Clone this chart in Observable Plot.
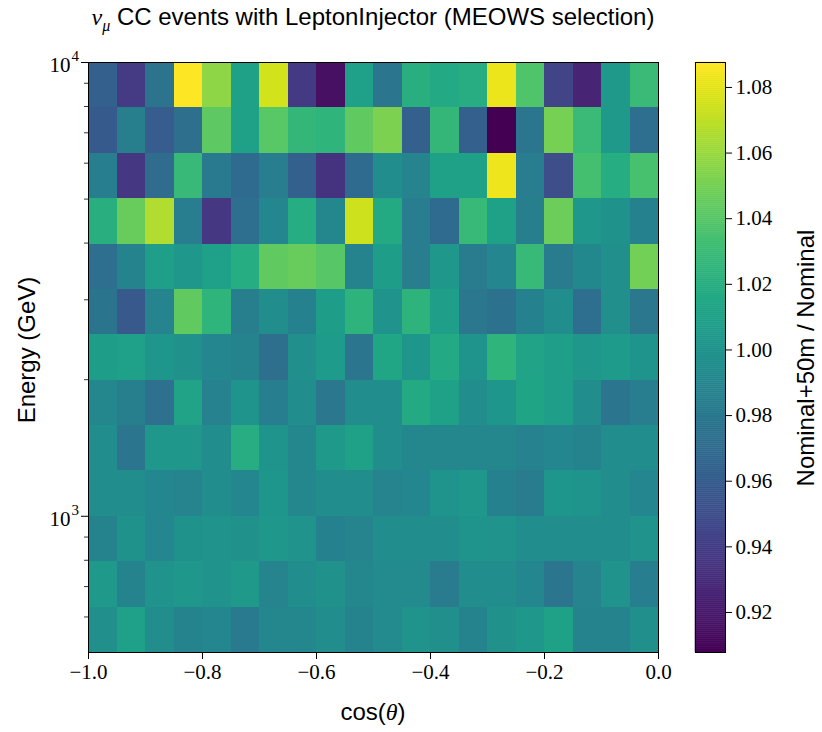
<!DOCTYPE html>
<html><head><meta charset="utf-8">
<script src="https://cdn.jsdelivr.net/npm/d3@7"></script>
<script src="https://cdn.jsdelivr.net/npm/@observablehq/plot@0.6"></script>
<style>
body{margin:0;background:#fff;}
#wrap{position:relative;width:822px;height:732px;overflow:hidden;background:#fff;}
.lbl{position:absolute;font-family:"Liberation Sans",Arial,sans-serif;font-size:24px;line-height:28px;color:#000;white-space:nowrap;}
.rot{transform:translate(-50%,-50%) rotate(-90deg);}
#main,#cbar{position:absolute;top:0;}
#main{left:0;}
#cbar{left:660px;}
</style></head><body>
<div id="wrap">
  <div id="main"></div>
  <div id="cbar"></div>
  <div class="lbl" style="left:88px;width:570px;top:3px;text-align:center"><span style="font-family:'Liberation Serif',serif;font-style:italic">ν<sub style="font-size:16px;">μ</sub></span> CC events with LeptonInjector (MEOWS selection)</div>
  <div class="lbl rot" style="left:27px;top:350px;">Energy (GeV)</div>
  <div class="lbl" style="left:273px;width:200px;top:698px;text-align:center">cos(<span style="font-family:'Liberation Serif',serif;font-style:italic">θ</span>)</div>
  <div class="lbl rot" style="left:806px;top:358px;">Nominal+50m / Nominal</div>
</div>
<script>
// cos(theta) bin edges (20 bins)
const cosThetaEdges = [-1.0,-0.95,-0.9,-0.85,-0.8,-0.75,-0.7,-0.65,-0.6,-0.55,-0.5,-0.45,-0.4,-0.35,-0.3,-0.25,-0.2,-0.15,-0.1,-0.05,0.0];
// energy bin edges in GeV (13 bins, 0.1 decade each)
const energyEdgesGeV = [501, 631, 794, 1000, 1259, 1585, 1995, 2512, 3162, 3981, 5012, 6310, 7943, 10000];

// ratio per energy bin (low -> high), across cos(theta) bins from -1 to 0
const ratio_501_631   = [0.997,1.009,0.996,0.988,0.990,0.981,0.991,0.991,0.996,0.988,0.993,1.000,0.997,0.988,0.998,1.004,1.010,0.988,0.988,0.997];
const ratio_631_794   = [1.005,0.988,1.000,1.004,1.000,1.005,0.989,0.996,0.998,0.991,0.993,0.993,0.982,0.995,0.995,0.990,0.978,0.989,1.000,0.984];
const ratio_794_1000  = [0.988,0.999,0.990,0.999,1.000,0.998,1.003,1.000,0.986,0.989,0.996,0.996,0.996,1.001,1.000,0.996,0.996,0.996,0.995,1.000];
const ratio_1000_1259 = [0.996,0.996,0.990,0.989,0.996,0.990,1.002,0.991,0.995,0.995,0.989,0.990,1.001,1.003,0.986,0.982,1.002,1.001,0.996,0.990];
const ratio_1259_1585 = [0.996,0.978,1.004,1.003,0.996,1.020,1.001,0.991,1.005,1.011,0.996,0.991,0.991,0.991,0.991,0.987,0.990,0.988,0.996,0.996];
const ratio_1585_1995 = [0.991,0.985,0.974,1.012,0.987,1.001,0.984,0.995,0.979,0.995,0.996,1.017,1.010,0.996,1.002,1.013,1.008,0.996,0.978,0.983];
const ratio_1995_2512 = [1.007,1.009,1.002,0.998,0.990,0.988,0.973,0.997,1.006,0.978,1.014,1.002,1.016,1.001,1.025,1.012,1.008,1.003,1.006,1.001];
const ratio_2512_3162 = [0.977,0.957,0.989,1.044,1.025,0.985,0.995,0.986,1.007,1.024,1.000,1.024,1.008,0.979,0.975,0.986,0.995,0.972,0.997,0.979];
const ratio_3162_3981 = [0.972,0.988,1.008,1.004,1.009,1.019,1.044,1.046,1.040,0.988,1.007,0.983,1.004,0.982,0.990,1.029,0.982,0.992,0.997,1.049];
const ratio_3981_5012 = [1.021,1.046,1.066,0.983,0.936,0.972,0.990,1.019,0.991,1.074,1.017,0.983,0.970,1.029,1.010,0.985,1.047,1.004,0.999,0.986];
const ratio_5012_6310 = [0.984,0.936,0.971,1.029,0.981,0.970,0.983,0.962,0.934,0.970,0.996,0.989,1.011,1.011,1.083,0.983,0.950,1.034,1.019,1.035];
const ratio_6310_7943 = [0.958,0.985,0.960,0.973,1.043,1.011,1.041,1.027,1.025,1.044,1.052,0.962,1.027,0.962,0.908,0.978,1.050,1.030,1.005,0.972];
const ratio_7943_10000= [0.962,0.939,0.976,1.087,1.057,1.011,1.075,0.938,0.915,1.009,0.978,1.021,1.016,1.020,1.082,1.038,0.944,0.926,1.005,1.030];

const xTicks = [-1.0,-0.8,-0.6,-0.4,-0.2,0.0];
const yMajorTicks = [1000, 10000];
const yMajorExponents = ["3", "4"];
const yMinorTicks = [600,700,800,900,2000,3000,4000,5000,6000,7000,8000,9000];
const colorDomain = [0.9078, 1.0876];
const cbarTicks = [0.92,0.94,0.96,0.98,1.00,1.02,1.04,1.06,1.08];

const rows = [ratio_501_631, ratio_631_794, ratio_794_1000, ratio_1000_1259, ratio_1259_1585,
  ratio_1585_1995, ratio_1995_2512, ratio_2512_3162, ratio_3162_3981, ratio_3981_5012,
  ratio_5012_6310, ratio_6310_7943, ratio_7943_10000];

const cells = [];
rows.forEach((vals, i) => vals.forEach((v, j) => cells.push({
  x1: cosThetaEdges[j], x2: cosThetaEdges[j + 1],
  y1: energyEdgesGeV[i], y2: energyEdgesGeV[i + 1], v
})));

const serif = '"Liberation Serif", "DejaVu Serif", serif';

const main = Plot.plot({
  width: 822, height: 732,
  marginLeft: 88, marginRight: 164, marginTop: 62, marginBottom: 80,
  style: {fontFamily: serif, fontSize: "21px", background: "transparent", color: "black", overflow: "visible"},
  x: {domain: [-1, 0]},
  y: {type: "log", domain: [energyEdgesGeV[0], energyEdgesGeV[energyEdgesGeV.length - 1]]},
  color: {type: "linear", scheme: "viridis", domain: colorDomain},
  marks: [
    Plot.rect(cells, {x1: "x1", x2: "x2", y1: "y1", y2: "y2", fill: "v", shapeRendering: "crispEdges"}),
    Plot.frame({stroke: "black", strokeWidth: 1}),
    Plot.axisX({ticks: xTicks, tickSize: 7, tickPadding: 5, tickFormat: d3.format(".1f"), label: null, stroke: "black", strokeWidth: 1}),
    Plot.axisY({ticks: yMajorTicks, tickSize: 7, tickFormat: () => "", label: null, stroke: "black", strokeWidth: 1}),
    Plot.axisY({ticks: yMinorTicks, tickSize: 4, tickFormat: () => "", label: null, stroke: "black", strokeWidth: 0.8}),
    Plot.text(yMajorTicks, {x: () => -1, y: d => d, text: () => "10", textAnchor: "end", dx: -18, dy: 3, fontSize: 21, fontFamily: serif, fill: "black"}),
    Plot.text(yMajorTicks, {x: () => -1, y: d => d, text: (d, i) => yMajorExponents[i], textAnchor: "start", dx: -17, dy: -6, fontSize: 15, fontFamily: serif, fill: "black"})
  ]
});
document.getElementById("main").appendChild(main);

// colorbar (legend) stops across the color domain
const nStops = 300;
const step = (colorDomain[1] - colorDomain[0]) / nStops;
const stops = d3.range(nStops).map(i => colorDomain[0] + (i + 0.5) * step);

const cbar = Plot.plot({
  width: 162, height: 732,
  marginLeft: 35, marginRight: 97, marginTop: 62, marginBottom: 80,
  style: {fontFamily: serif, fontSize: "21px", background: "transparent", color: "black", overflow: "visible"},
  x: {domain: [0, 1], axis: null},
  y: {domain: colorDomain},
  color: {type: "linear", scheme: "viridis", domain: colorDomain},
  marks: [
    Plot.rect(stops, {x1: 0, x2: 1, y1: d => d - step / 2, y2: d => d + step / 2, fill: d => d, stroke: d => d, strokeWidth: 0.5}),
    Plot.frame({stroke: "black", strokeWidth: 1}),
    Plot.axisY({anchor: "right", ticks: cbarTicks, tickSize: 6, tickPadding: 4, tickFormat: d3.format(".2f"), label: null, stroke: "black", strokeWidth: 1})
  ]
});
document.getElementById("cbar").appendChild(cbar);
</script>
</body></html>
